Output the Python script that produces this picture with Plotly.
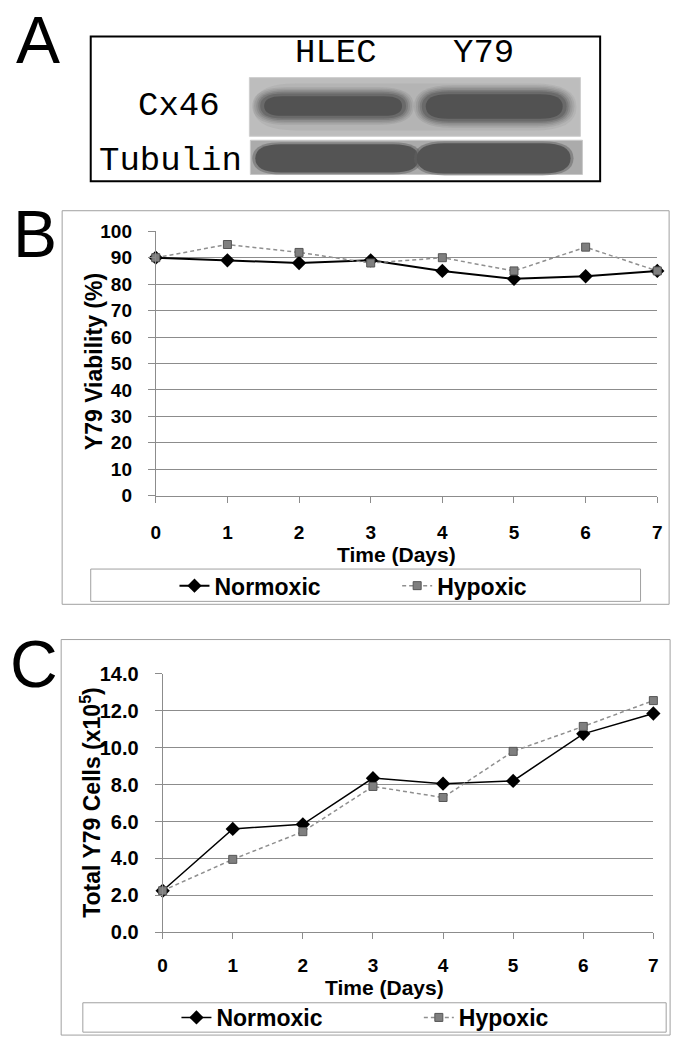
import plotly.graph_objects as go

W, H = 682, 1050

# ---------------- data ----------------
days = [0, 1, 2, 3, 4, 5, 6, 7]
viability_normoxic = [90, 89, 88, 89, 85, 82, 83, 85]
viability_hypoxic = [90, 95, 92, 88, 90, 85, 94, 85]
cells_normoxic = [2.25, 5.6, 5.85, 8.35, 8.05, 8.2, 10.75, 11.85]
cells_hypoxic = [2.25, 3.95, 5.45, 7.9, 7.3, 9.8, 11.15, 12.55]
viability_ticks = [0, 10, 20, 30, 40, 50, 60, 70, 80, 90, 100]
cells_ticks = [0, 2, 4, 6, 8, 10, 12, 14]
blot_lanes = ["HLEC", "Y79"]
blot_rows = ["Cx46", "Tubulin"]


def X(px):
    return px / W


def Y(py):
    return 1 - py / H


FONT = "Liberation Sans, Arial, sans-serif"
MONO = "Liberation Mono, Courier New, monospace"
GRID = "#8c8c8c"

fig = go.Figure()

norm_line_b = dict(color="black", width=2)
hyp_line = dict(color="#8f8f8f", width=1.5, dash="4px,3px")
norm_marker = dict(symbol="diamond", size=11, color="black")
hyp_marker = dict(symbol="square", size=8, color="#7f7f7f", line=dict(color="#555555", width=1))

fig.add_trace(go.Scatter(x=days, y=viability_normoxic, name="Normoxic", mode="lines+markers",
                         line=norm_line_b, marker=norm_marker, xaxis="x", yaxis="y",
                         cliponaxis=False, legend="legend"))
fig.add_trace(go.Scatter(x=days, y=viability_hypoxic, name="Hypoxic", mode="lines+markers",
                         line=hyp_line, marker=hyp_marker, xaxis="x", yaxis="y",
                         cliponaxis=False, legend="legend2"))
fig.add_trace(go.Scatter(x=days, y=cells_normoxic, name="Normoxic", mode="lines+markers",
                         line=dict(color="black", width=1.5), marker=norm_marker, xaxis="x2", yaxis="y2",
                         cliponaxis=False, legend="legend3"))
fig.add_trace(go.Scatter(x=days, y=cells_hypoxic, name="Hypoxic", mode="lines+markers",
                         line=hyp_line, marker=hyp_marker, xaxis="x2", yaxis="y2",
                         cliponaxis=False, legend="legend4"))


def xax(l, r, anchor, standoff):
    return dict(domain=[X(l), X(r)], range=[0, 7], tickvals=days, anchor=anchor,
                showgrid=False, zeroline=False, showline=True, linecolor=GRID, linewidth=1,
                ticks="outside", ticklen=6, tickcolor=GRID, ticklabelstandoff=standoff,
                tickfont=dict(family=FONT, size=19, color="black", weight="bold"), fixedrange=True)


def yax(bot, top, rng, ticks, fmt, size, anchor):
    return dict(domain=[Y(bot), Y(top)], range=rng, tickvals=ticks, tickformat=fmt, anchor=anchor,
                showgrid=True, gridcolor=GRID, gridwidth=1, zeroline=False,
                showline=True, linecolor=GRID, linewidth=1,
                ticks="outside", ticklen=7, tickcolor=GRID, ticklabelstandoff=12,
                tickfont=dict(family=FONT, size=size, color="black", weight="bold"), fixedrange=True)


def leg(xpx, ypx):
    return dict(x=X(xpx), y=Y(ypx), xanchor="left", yanchor="middle", bgcolor="rgba(0,0,0,0)",
                borderwidth=0, itemwidth=30, font=dict(family=FONT, size=23, color="black", weight="bold"))


# ---------------- decorative shapes ----------------
def rect(x0, y0, x1, y1, line_color, line_width, fill="rgba(0,0,0,0)"):
    return dict(type="rect", xref="paper", yref="paper", x0=X(x0), x1=X(x1), y0=Y(y1), y1=Y(y0),
                line=dict(color=line_color, width=line_width), fillcolor=fill, layer="below")


def pill(x0, y0, x1, y1, color, opacity):
    r = (y1 - y0) * 0.9
    ym = (y0 + y1) / 2
    p = (f"M {X(x0 + r)},{Y(y0)} L {X(x1 - r)},{Y(y0)} Q {X(x1)},{Y(y0)} {X(x1)},{Y(ym)} "
         f"Q {X(x1)},{Y(y1)} {X(x1 - r)},{Y(y1)} L {X(x0 + r)},{Y(y1)} "
         f"Q {X(x0)},{Y(y1)} {X(x0)},{Y(ym)} Q {X(x0)},{Y(y0)} {X(x0 + r)},{Y(y0)} Z")
    return dict(type="path", xref="paper", yref="paper", path=p, fillcolor=color,
                line=dict(width=0), opacity=opacity, layer="below")


shapes = [
    rect(87, 26, 604, 174, "black", 2, "white"),
    rect(58, 204, 674, 606, "#a0a0a0", 1),
    rect(57, 642, 675, 1046, "#a0a0a0", 1),
    rect(87, 570, 645, 603, "#a0a0a0", 1),
    rect(79, 1013, 671, 1043, "#a0a0a0", 1),
    # blot backgrounds
    rect(248, 68, 584, 128, "#cfcfcf", 1, "#bdbdbd"),
    rect(249, 132, 586, 167, "#c8c8c8", 1, "#ababab"),
]
# soft grey haze behind Cx46 bands
shapes.append(pill(252, 74, 580, 122, "#a0a0a0", 0.3))
# Cx46 bands: graded halo + core
for (x0, y0, x1, y1) in [(260, 85, 406, 109), (424, 83, 569, 112)]:
    for e, op in [(9, 0.12), (7, 0.15), (5, 0.2), (3, 0.3), (1, 0.45)]:
        shapes.append(pill(x0 - e, y0 - e * 0.8, x1 + e, y1 + e * 0.8, "#555555", op))
    shapes.append(pill(x0 + 3, y0 + 2, x1 - 3, y1 - 2, "#4c4c4c", 0.8))
# Tubulin bands
for (x0, y0, x1, y1) in [(253, 135, 421, 166), (417, 134, 575, 167)]:
    shapes.append(pill(x0 - 2, y0 - 1, x1 + 2, y1 + 1, "#606060", 0.5))
    shapes.append(pill(x0 + 1, y0 + 1, x1 - 1, y1 - 1, "#545454", 1))

# ---------------- annotations ----------------
def ann(text, xpx, ypx, size, family=FONT, angle=0, bold=False, xanchor="center"):
    return dict(text=text, x=X(xpx), y=Y(ypx), xref="paper", yref="paper", showarrow=False,
                xanchor=xanchor, yanchor="middle", textangle=angle,
                font=dict(family=family, size=size, color="black", weight="bold" if bold else "normal"))


annotations = [
    ann("A", 33, 30, 66),
    ann("B", 30, 228, 66),
    ann("C", 29, 667, 66),
    ann(blot_lanes[0], 336, 43, 34, MONO),
    ann(blot_lanes[1], 486, 43, 34, MONO),
    ann(blot_rows[0], 177, 97, 34, MONO),
    ann(blot_rows[1], 168, 153, 34, MONO),
    ann("Y79 Viability (%)", 91, 358, 23, angle=-90, bold=True),
    ann("Time (Days)", 397, 555, 21, bold=True),
    ann("Total Y79 Cells (x10<sup>5</sup>)", 87, 808, 23, angle=-90, bold=True),
    ann("Time (Days)", 385, 997, 21, bold=True),
]

fig.update_layout(
    width=W, height=H, autosize=False,
    margin=dict(l=0, r=0, t=0, b=0),
    paper_bgcolor="white", plot_bgcolor="white",
    xaxis=xax(153, 662, "y", 14),
    yaxis=yax(495, 225, [0, 100], viability_ticks, "d", 19, "x"),
    xaxis2=xax(160, 658, "y2", 10),
    yaxis2=yax(941, 677, [0, 14], cells_ticks, ".1f", 20, "x2"),
    legend=leg(172, 587),
    legend2=leg(398, 587),
    legend3=leg(174, 1028),
    legend4=leg(420, 1028),
    shapes=shapes,
    annotations=annotations,
    showlegend=True,
)

fig.write_html("out.html", config={"displayModeBar": False, "staticPlot": True},
               post_script="document.body.style.margin='0';document.body.style.overflow='hidden';")
